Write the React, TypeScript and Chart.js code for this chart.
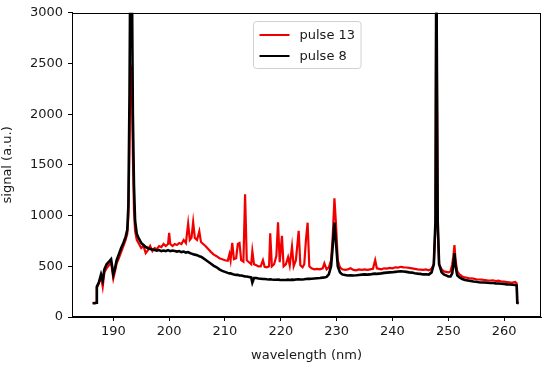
import React, { useEffect, useRef } from "react";
import { Chart, registerables } from "chart.js";

Chart.register(...registerables);

const seriesLabels = ["pulse 13", "pulse 8"];
const seriesColors = ["#f20000", "#000000"];
const xTicks = [190, 200, 210, 220, 230, 240, 250, 260];
const yTicks = [0, 500, 1000, 1500, 2000, 2500, 3000];
const xTitle = "wavelength (nm)";
const yTitle = "signal (a.u.)";

const wavelength = [
  186.3, 186.7, 187.0, 187.05, 187.4, 187.8, 188.1, 188.4, 188.8, 189.2, 189.6, 190.0, 190.3, 190.6, 191.0, 191.4, 191.8, 192.2, 192.5, 192.7, 192.9, 193.05, 193.3, 193.5, 193.7, 193.9, 194.2, 194.6, 195.0, 195.4, 195.8, 196.2, 196.6, 197.0, 197.4, 197.8, 198.2, 198.6, 199.0, 199.4, 199.8, 200.0, 200.2, 200.6, 201.0, 201.4, 201.8, 202.2, 202.6, 203.0, 203.4, 203.7, 204.0, 204.3, 204.6, 205.0, 205.4, 205.7, 206.1, 206.5, 207.0, 207.5, 208.0, 208.5, 209.0, 209.5, 210.0, 210.5, 210.8, 211.0, 211.3, 211.6, 212.0, 212.3, 212.6, 212.9, 213.3, 213.6, 213.9, 214.3, 214.7, 214.9, 215.2, 215.6, 216.0, 216.4, 216.8, 217.1, 217.5, 217.9, 218.1, 218.4, 218.8, 219.2, 219.5, 219.8, 220.2, 220.5, 220.9, 221.3, 221.6, 222.0, 222.3, 222.7, 223.2, 223.5, 223.9, 224.2, 224.5, 224.8, 225.1, 225.5, 226.0, 226.5, 227.0, 227.5, 227.8, 228.2, 228.6, 229.0, 229.3, 229.6, 229.9, 230.2, 230.6, 231.0, 231.5, 232.0, 232.5, 233.0, 233.5, 234.0, 234.5, 235.0, 235.5, 236.0, 236.5, 236.9, 237.2, 237.6, 238.0, 238.5, 239.0, 239.5, 240.0, 240.5, 241.0, 241.5, 242.0, 242.5, 243.0, 243.5, 244.0, 244.5, 245.0, 245.5, 246.0, 246.5, 247.0, 247.4, 247.7, 247.85, 247.95, 248.1, 248.35, 248.8, 249.2, 249.6, 250.0, 250.4, 250.7, 250.9, 251.1, 251.3, 251.6, 252.0, 252.5, 253.0, 253.5, 254.0, 254.5, 255.0, 255.5, 256.0, 256.5, 257.0, 257.5, 258.0, 258.5, 259.0, 259.5, 260.0, 260.5, 261.0, 261.5, 262.0, 262.25, 262.35, 262.6,
];

const pulse13 = [
  140, 140, 145, 290, 330, 400, 300, 440, 480, 510, 540, 380, 450, 530, 580, 640, 700, 760, 820, 1000, 1700, 2400, 2450, 1600, 1050, 850, 760, 720, 680, 700, 630, 660, 700, 650, 680, 670, 700, 690, 720, 700, 720, 830, 720, 700, 720, 710, 730, 720, 760, 730, 920, 760, 780, 935, 780, 760, 845, 740, 720, 700, 670, 640, 615, 600, 580, 570, 560, 555, 620, 560, 730, 570, 580, 720, 730, 560, 545, 1210, 560, 540, 520, 650, 520, 510, 500, 500, 560, 495, 490, 500, 826, 500, 520, 600, 934, 540, 800, 500, 520, 590, 510, 695, 500, 560, 850, 510, 490, 520, 760, 930, 500, 480, 470, 475, 470, 480, 530, 470, 490, 560, 800, 1170, 900, 560, 490, 470, 465, 470, 480, 465, 460, 470, 465, 470, 465, 470, 475, 560, 480, 475, 470, 480, 478, 485, 480, 490, 488, 495, 490, 488, 485, 480, 475, 470, 468, 465, 470, 460, 475, 520, 900, 3600, 3600, 900, 520, 470, 450, 445, 440, 450, 520, 600, 710, 560, 450, 420, 400, 390, 385, 380, 378, 372, 370, 368, 365, 362, 360, 362, 355, 358, 350, 348, 345, 342, 340, 345, 330, 140, 135,
];

const pulse8 = [
  135, 135, 140, 300, 340, 420, 360, 470, 520, 545, 570, 420, 480, 560, 620, 680, 730, 790, 860, 1100, 2200, 3600, 3600, 2000, 1300, 950, 820, 770, 730, 710, 690, 680, 670, 665, 660, 655, 660, 650, 655, 650, 660, 655, 650, 655, 650, 645, 650, 640, 645, 635, 640, 630, 625, 620, 615, 610, 600, 595, 580, 565, 545, 525, 505, 490, 470, 455, 445, 435, 430, 430, 425, 420, 415, 415, 410, 410, 405, 400, 400, 395, 390, 340, 385, 385, 380, 378, 375, 375, 372, 370, 372, 370, 368, 368, 370, 366, 365, 365, 365, 368, 365, 368, 366, 370, 372, 370, 370, 372, 375, 376, 376, 378, 380, 382, 384, 388, 390, 395, 420, 500, 700, 930, 720, 500, 440, 420, 415, 410, 412, 410, 412, 415, 418, 420, 418, 420, 425, 428, 425, 428, 430, 435, 438, 440, 442, 445, 448, 450, 448, 445, 440, 438, 432, 428, 425, 420, 422, 418, 440, 520, 950, 3600, 3600, 950, 520, 440, 420, 410, 400, 400, 430, 520, 630, 500, 410, 390, 375, 365, 360, 355, 350, 348, 342, 340, 340, 338, 335, 335, 332, 330, 328, 325, 322, 320, 318, 315, 310, 140, 135,
];

const FONT = "'DejaVu Sans', sans-serif";
const TEXT = "#1a1a1a";

const framePlugin = {
  id: "frame",
  afterDraw(chart: any) {
    const { ctx, chartArea } = chart;
    ctx.save();
    ctx.strokeStyle = "#000";
    ctx.lineWidth = 1;
    ctx.strokeRect(
      Math.round(chartArea.left) + 0.5,
      Math.round(chartArea.top) + 0.5,
      Math.round(chartArea.right - chartArea.left) - 1,
      Math.round(chartArea.bottom - chartArea.top) - 1
    );
    ctx.font = `13px ${FONT}`;
    const datasets = chart.data.datasets;
    const textW = Math.max(...datasets.map((d: any) => ctx.measureText(d.label).width));
    const lineLen = 30;
    const padX = 6;
    const gap = 10;
    const rowH = 21;
    const w = padX + lineLen + gap + textW + padX;
    const h = rowH * datasets.length + 5;
    const cx = (chartArea.left + chartArea.right) / 2;
    const x0 = Math.round(cx - w / 2) + 0.5;
    const y0 = Math.round(chartArea.top + 8) + 0.5;
    ctx.beginPath();
    const r = 3;
    ctx.moveTo(x0 + r, y0);
    ctx.lineTo(x0 + w - r, y0);
    ctx.arcTo(x0 + w, y0, x0 + w, y0 + r, r);
    ctx.lineTo(x0 + w, y0 + h - r);
    ctx.arcTo(x0 + w, y0 + h, x0 + w - r, y0 + h, r);
    ctx.lineTo(x0 + r, y0 + h);
    ctx.arcTo(x0, y0 + h, x0, y0 + h - r, r);
    ctx.lineTo(x0, y0 + r);
    ctx.arcTo(x0, y0, x0 + r, y0, r);
    ctx.closePath();
    ctx.fillStyle = "rgba(255,255,255,0.85)";
    ctx.fill();
    ctx.strokeStyle = "#d0d0d0";
    ctx.lineWidth = 1;
    ctx.stroke();
    datasets.forEach((d: any, i: number) => {
      const yy = y0 + 3 + rowH * i + rowH / 2;
      ctx.beginPath();
      ctx.strokeStyle = d.borderColor;
      ctx.lineWidth = 2;
      ctx.moveTo(x0 + padX, yy);
      ctx.lineTo(x0 + padX + lineLen, yy);
      ctx.stroke();
      ctx.fillStyle = TEXT;
      ctx.textBaseline = "middle";
      ctx.textAlign = "left";
      ctx.fillText(d.label, x0 + padX + lineLen + gap, yy + 1);
    });
    ctx.restore();
  },
};

export default function App() {
  const ref = useRef<HTMLCanvasElement>(null);
  useEffect(() => {
    if (!ref.current) return;
    const toPts = (ys: number[]) => wavelength.map((x, i) => ({ x, y: ys[i] }));
    const chart = new Chart(ref.current, {
      type: "line",
      data: {
        datasets: [
          {
            label: seriesLabels[0],
            data: toPts(pulse13),
            borderColor: seriesColors[0],
            borderWidth: 2.2,
            pointRadius: 0,
            tension: 0,
            order: 1,
          },
          {
            label: seriesLabels[1],
            data: toPts(pulse8),
            borderColor: seriesColors[1],
            borderWidth: 2.6,
            pointRadius: 0,
            tension: 0,
            order: 0,
          },
        ],
      },
      options: {
        animation: false,
        responsive: false,
        maintainAspectRatio: false,
        layout: { padding: { top: 12, right: 9, left: 0, bottom: 0 } },
        plugins: {
          legend: { display: false },
          tooltip: { enabled: false },
        },
        scales: {
          x: {
            type: "linear",
            min: 182.6,
            max: 266.6,
            afterBuildTicks: (s: any) => {
              s.ticks = xTicks.map((v) => ({ value: v }));
            },
            afterFit: (s: any) => {
              s.height = 50;
            },
            grid: { drawOnChartArea: false, drawTicks: true, tickLength: 4, color: "#000" },
            border: { display: true, color: "#000", width: 1 },
            ticks: {
              color: TEXT,
              font: { family: FONT, size: 13 },
              padding: 3,
              maxRotation: 0,
              autoSkip: false,
              callback: (v: any) => String(v),
            },
            title: {
              display: true,
              text: xTitle,
              color: TEXT,
              font: { family: FONT, size: 13 },
              padding: { top: 0, bottom: 4 },
            },
          },
          y: {
            type: "linear",
            min: 0,
            max: 3000,
            afterBuildTicks: (s: any) => {
              s.ticks = yTicks.map((v) => ({ value: v }));
            },
            afterFit: (s: any) => {
              s.width = 72;
            },
            grid: { drawOnChartArea: false, drawTicks: true, tickLength: 4, color: "#000" },
            border: { display: true, color: "#000", width: 1 },
            ticks: {
              color: TEXT,
              font: { family: FONT, size: 13 },
              padding: 5,
              autoSkip: false,
              callback: (v: any) => String(v),
            },
            title: {
              display: true,
              text: yTitle,
              color: TEXT,
              font: { family: FONT, size: 13 },
              padding: { top: 0, bottom: 6 },
            },
          },
        },
      },
      plugins: [framePlugin],
    });
    return () => chart.destroy();
  }, []);
  return (
    <div style={{ position: "fixed", left: 0, top: 0, width: 550, height: 367, background: "#fff" }}>
      <canvas ref={ref} width={550} height={367} style={{ display: "block", width: 550, height: 367 }} />
    </div>
  );
}
